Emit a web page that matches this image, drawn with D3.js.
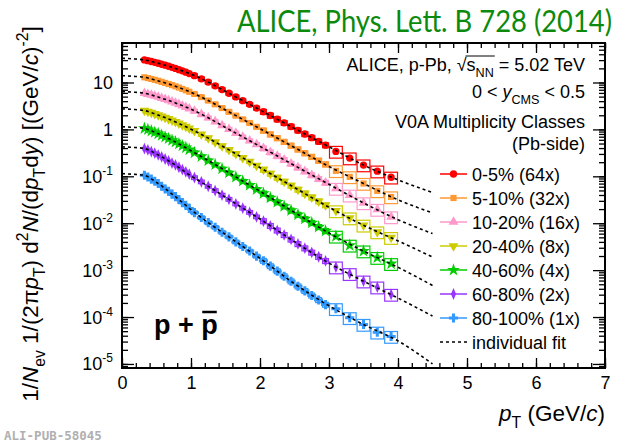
<!DOCTYPE html>
<html>
<head>
<meta charset="utf-8">
<script src="https://cdn.jsdelivr.net/npm/d3@7"></script>
<style>
  body { margin: 0; background: #fff; }
  svg { display: block; }
  text { font-family: "Liberation Sans", Arial, Helvetica, sans-serif; }
</style>
</head>
<body>
<svg width="625" height="448"></svg>
<script>
// **** p+pbar spectra in p-Pb, V0A multiplicity classes ****

// pT bin centres and widths (GeV/c)
var ptCenters = [0.325, 0.375, 0.425, 0.475, 0.525, 0.575, 0.625, 0.675, 0.725, 0.775, 0.825, 0.875, 0.925, 0.975,
  1.05, 1.15, 1.25, 1.35, 1.45, 1.55, 1.65, 1.75, 1.85, 1.95,
  2.05, 2.15, 2.25, 2.35, 2.45, 2.55, 2.65, 2.75, 2.85, 2.95,
  3.1, 3.3, 3.5, 3.7, 3.9];
var ptWidths = [0.05, 0.05, 0.05, 0.05, 0.05, 0.05, 0.05, 0.05, 0.05, 0.05, 0.05, 0.05, 0.05, 0.05,
  0.1, 0.1, 0.1, 0.1, 0.1, 0.1, 0.1, 0.1, 0.1, 0.1,
  0.1, 0.1, 0.1, 0.1, 0.1, 0.1, 0.1, 0.1, 0.1, 0.1,
  0.2, 0.2, 0.2, 0.2, 0.2];
// relative systematic uncertainty per bin
var sysRel = [0.08, 0.08, 0.08, 0.08, 0.08, 0.08, 0.08, 0.08, 0.08, 0.08, 0.08, 0.08, 0.08, 0.08,
  0.09, 0.09, 0.09, 0.09, 0.09, 0.09, 0.09, 0.09, 0.09, 0.09,
  0.12, 0.12, 0.12, 0.12, 0.12, 0.12, 0.12, 0.12, 0.12, 0.12,
  0.28, 0.28, 0.28, 0.28, 0.28];

// yields, already multiplied by the scale factor in the legend
var yield0_5 = [30.3, 29.2, 28.0, 26.9, 25.7, 24.5, 23.4, 22.2, 21.1, 20.0, 18.8, 17.7, 16.6, 15.5,
  14.0, 12.0, 10.2, 8.49, 7.08, 5.90, 4.92, 4.10, 3.42, 2.85,
  2.38, 1.98, 1.65, 1.38, 1.15, 0.957, 0.798, 0.665, 0.555, 0.462,
  0.339, 0.245, 0.174, 0.129, 0.0955];
var yield5_10 = [12.9, 12.4, 11.9, 11.4, 10.9, 10.3, 9.79, 9.29, 8.79, 8.28, 7.80, 7.29, 6.82, 6.35,
  5.70, 4.89, 4.12, 3.43, 2.85, 2.37, 1.97, 1.64, 1.37, 1.135,
  0.946, 0.785, 0.653, 0.543, 0.451, 0.375, 0.312, 0.260, 0.216, 0.180,
  0.131, 0.0973, 0.0703, 0.0489, 0.0363];
var yield10_20 = [5.92, 5.66, 5.41, 5.15, 4.90, 4.65, 4.39, 4.14, 3.90, 3.66, 3.43, 3.20, 2.98, 2.76,
  2.47, 2.10, 1.77, 1.47, 1.21, 1.01, 0.836, 0.693, 0.575, 0.477,
  0.396, 0.327, 0.271, 0.225, 0.186, 0.154, 0.128, 0.106, 0.0883, 0.0733,
  0.0550, 0.0395, 0.0271, 0.0196, 0.0136];
var yield20_40 = [2.52, 2.40, 2.28, 2.15, 2.03, 1.91, 1.78, 1.67, 1.56, 1.45, 1.35, 1.24, 1.15, 1.05,
  0.929, 0.783, 0.652, 0.538, 0.443, 0.366, 0.301, 0.248, 0.205, 0.169,
  0.139, 0.114, 0.0938, 0.0771, 0.0634, 0.0521, 0.0431, 0.0356, 0.0294, 0.0243,
  0.0183, 0.0129, 0.00904, 0.00650, 0.00493];
var yield40_60 = [1.05, 0.995, 0.929, 0.869, 0.811, 0.748, 0.690, 0.640, 0.586, 0.541, 0.493, 0.448, 0.409, 0.370,
  0.320, 0.265, 0.217, 0.178, 0.145, 0.119, 0.0964, 0.0791, 0.0647, 0.0526,
  0.0432, 0.0348, 0.0282, 0.0230, 0.0187, 0.0152, 0.0124, 0.0102, 0.00834, 0.00684,
  0.00526, 0.00338, 0.00255, 0.00185, 0.00137];
var yield60_80 = [0.391, 0.366, 0.337, 0.311, 0.286, 0.259, 0.234, 0.213, 0.192, 0.175, 0.156, 0.139, 0.125, 0.111,
  0.0938, 0.0764, 0.0612, 0.0498, 0.0398, 0.0324, 0.0259, 0.0210, 0.0171, 0.0137,
  0.0111, 0.00877, 0.00703, 0.00562, 0.00451, 0.00361, 0.00293, 0.00238, 0.00193, 0.00157,
  0.00116, 0.000838, 0.000582, 0.000434, 0.000303];
var yield80_100 = [0.105, 0.0968, 0.0871, 0.0783, 0.0703, 0.0615, 0.0537, 0.0479, 0.0417, 0.0369, 0.0320, 0.0275, 0.0242, 0.0207,
  0.0168, 0.0132, 0.0103, 0.00820, 0.00641, 0.00512, 0.00400, 0.00319, 0.00255, 0.00199,
  0.00159, 0.00122, 0.000951, 0.000743, 0.000579, 0.000453, 0.000361, 0.000289, 0.000231, 0.000184,
  0.000150, 0.0000964, 0.0000693, 0.0000474, 0.0000384];

// individual fits
var fitPt = [0, 0.15, 0.325, 0.5, 0.75, 1, 1.25, 1.5, 1.75, 2, 2.5, 3, 3.5, 4, 4.5];
var fit0_5 = [32.9, 32.0, 30.3, 26.3, 20.5, 15.1, 10.2, 6.46, 4.10, 2.60, 1.05, 0.427, 0.174, 0.0841, 0.0452];
var fit5_10 = [14.0, 13.6, 12.9, 11.1, 8.53, 6.17, 4.12, 2.60, 1.64, 1.035, 0.411, 0.162, 0.0703, 0.0316, 0.0166];
var fit10_20 = [6.38, 6.24, 5.92, 5.01, 3.78, 2.69, 1.77, 1.10, 0.693, 0.435, 0.170, 0.0676, 0.0271, 0.0119, 0.00603];
var fit20_40 = [2.74, 2.67, 2.52, 2.09, 1.50, 1.01, 0.652, 0.403, 0.248, 0.153, 0.0575, 0.0219, 0.00904, 0.0042, 0.00191];
var fit40_60 = [1.14, 1.11, 1.05, 0.839, 0.562, 0.351, 0.217, 0.132, 0.0791, 0.0479, 0.0170, 0.00617, 0.00255, 0.00115, 0.000472];
var fit60_80 = [0.424, 0.414, 0.391, 0.299, 0.183, 0.102, 0.0612, 0.0359, 0.0210, 0.0123, 0.00404, 0.00141, 0.000582, 0.000254, 0.000105];
var fit80_100 = [0.114, 0.111, 0.105, 0.0741, 0.0393, 0.0195, 0.0103, 0.00575, 0.00319, 0.00178, 0.000513, 0.000174, 0.0000693, 0.000031, 0.0000100];

var classLabels = ['0-5% (64x)', '5-10% (32x)', '10-20% (16x)', '20-40% (8x)', '40-60% (4x)', '60-80% (2x)', '80-100% (1x)'];
var yields = [yield0_5, yield5_10, yield10_20, yield20_40, yield40_60, yield60_80, yield80_100];
var fits = [fit0_5, fit5_10, fit10_20, fit20_40, fit40_60, fit60_80, fit80_100];

var xTickVals = [0, 1, 2, 3, 4, 5, 6, 7];
var yTickVals = [10, 1, 0.1, 0.01, 1e-3, 1e-4, 1e-5];
var yTickBase = ['10', '1', '10', '10', '10', '10', '10'];
var yTickExp = ['', '', '-1', '-2', '-3', '-4', '-5'];

// styles
var colors = ['#ff0000', '#ff9933', '#ff99cc', '#cccc00', '#00cc00', '#9933ff', '#3399ff'];
var symbols = [d3.symbolCircle, d3.symbolSquare, d3.symbolTriangle, d3.symbolTriangle, d3.symbolStar, d3.symbolDiamond, d3.symbolCross];
var symSize = [42, 38, 42, 42, 52, 40, 46];
var symTransform = ['', '', '', ' rotate(180)', '', ' scale(0.75,1)', ''];

var svg = d3.select('svg');
// NB: "top" is reserved on window, so use plot* names
var plotLeft = 122, plotRight = 605, plotTop = 43, plotBottom = 368;

var x = d3.scaleLinear().domain([0, 7]).range([plotLeft, plotRight]);
var y = d3.scaleLog().domain([8.2e-6, 69.5]).range([plotBottom, plotTop]);

svg.append('clipPath').attr('id', 'clip')
  .append('rect').attr('x', plotLeft).attr('y', plotTop)
  .attr('width', plotRight - plotLeft).attr('height', plotBottom - plotTop);

var plot = svg.append('g').attr('clip-path', 'url(#clip)');

function points(i) {
  return yields[i].map(function(v, j) {
    return {pt: ptCenters[j], w: ptWidths[j], v: v, s: sysRel[j]};
  });
}

// systematic boxes
yields.forEach(function(ys, i) {
  plot.append('g').selectAll('rect')
    .data(points(i))
    .enter()
    .append('rect')
      .attr('x', function(d) { return x(d.pt - d.w / 2) + 0.5; })
      .attr('width', function(d) { return x(d.pt + d.w / 2) - x(d.pt - d.w / 2) - 1; })
      .attr('y', function(d) { return y(d.v * (1 + d.s)); })
      .attr('height', function(d) { return y(d.v * (1 - d.s)) - y(d.v * (1 + d.s)); })
      .style('fill', 'none')
      .style('stroke', colors[i])
      .style('stroke-width', 1.2);
});

// markers
yields.forEach(function(ys, i) {
  plot.append('g').selectAll('path')
    .data(points(i))
    .enter()
    .append('path')
      .attr('d', d3.symbol().type(symbols[i]).size(symSize[i]))
      .attr('transform', function(d) { return 'translate(' + x(d.pt) + ',' + y(d.v) + ')' + symTransform[i]; })
      .style('fill', colors[i]);
});

// fits
var fitLine = d3.line()
  .x(function(d) { return x(d[0]); })
  .y(function(d) { return y(d[1]); })
  .curve(d3.curveMonotoneX);

fits.forEach(function(f) {
  plot.append('path')
    .datum(fitPt.map(function(p, j) { return [p, f[j]]; }))
    .attr('d', fitLine)
    .style('fill', 'none')
    .style('stroke', '#000')
    .style('stroke-width', 1.6)
    .style('stroke-dasharray', '3,3');
});

// axes, ROOT style: ticks inside on all four sides
var xMinor = d3.range(0, 7.01, 0.2);
var yMinor = y.ticks();

function tickStyle(g) {
  g.select('.domain').remove();
  g.selectAll('line').style('stroke', '#000').style('stroke-width', 1.3);
}

svg.append('g').attr('transform', 'translate(0,' + plotBottom + ')')
  .call(d3.axisBottom(x).tickValues(xMinor).tickSize(-5).tickFormat(''))
  .call(tickStyle);
var xAxis = svg.append('g').attr('transform', 'translate(0,' + plotBottom + ')')
  .call(d3.axisBottom(x).tickValues(xTickVals).tickSize(-10).tickPadding(8).tickFormat(d3.format('d')))
  .call(tickStyle);
xAxis.selectAll('text').style('font-size', '18px').style('fill', '#000')
  .style('font-family', '"Liberation Sans", Arial, sans-serif');

svg.append('g').attr('transform', 'translate(0,' + plotTop + ')')
  .call(d3.axisTop(x).tickValues(xMinor).tickSize(-5).tickFormat(''))
  .call(tickStyle);
svg.append('g').attr('transform', 'translate(0,' + plotTop + ')')
  .call(d3.axisTop(x).tickValues(xTickVals).tickSize(-10).tickFormat(''))
  .call(tickStyle);

svg.append('g').attr('transform', 'translate(' + plotLeft + ',0)')
  .call(d3.axisLeft(y).tickValues(yMinor).tickSize(-6).tickFormat(''))
  .call(tickStyle);
svg.append('g').attr('transform', 'translate(' + plotLeft + ',0)')
  .call(d3.axisLeft(y).tickValues(yTickVals).tickSize(-12).tickFormat(''))
  .call(tickStyle);
svg.append('g').attr('transform', 'translate(' + plotRight + ',0)')
  .call(d3.axisRight(y).tickValues(yMinor).tickSize(-6).tickFormat(''))
  .call(tickStyle);
svg.append('g').attr('transform', 'translate(' + plotRight + ',0)')
  .call(d3.axisRight(y).tickValues(yTickVals).tickSize(-12).tickFormat(''))
  .call(tickStyle);

// frame
svg.append('rect')
  .attr('x', plotLeft).attr('y', plotTop)
  .attr('width', plotRight - plotLeft).attr('height', plotBottom - plotTop)
  .style('fill', 'none').style('stroke', '#000').style('stroke-width', 2);

// y tick labels with exponents
yTickVals.forEach(function(v, i) {
  var t = svg.append('text')
    .attr('x', 113).attr('y', y(v) + 6.5)
    .attr('text-anchor', 'end')
    .style('font-size', '18px')
    .text(yTickBase[i]);
  if (yTickExp[i]) {
    t.append('tspan').attr('dy', -8).style('font-size', '12px').text(yTickExp[i]);
  }
});

// helper for text with sub/superscripts and italics
function richText(sel, parts, fs) {
  var shift = 0;
  parts.forEach(function(p) {
    var target = p.sub ? 0.32 : (p.sup ? -0.45 : 0);
    var ts = sel.append('tspan').text(p.t);
    if (target !== shift) ts.attr('dy', ((target - shift) * fs).toFixed(1));
    shift = target;
    if (p.sub || p.sup) ts.style('font-size', (fs * 0.7) + 'px');
    if (p.i) ts.style('font-style', 'italic');
  });
  return sel;
}

// axis titles
richText(svg.append('text')
    .attr('x', 605).attr('y', 421)
    .attr('text-anchor', 'end')
    .style('font-size', '22.5px'),
  [{t: 'p', i: true}, {t: 'T', sub: true}, {t: ' (GeV/'}, {t: 'c', i: true}, {t: ')'}], 22.5);

richText(svg.append('text')
    .attr('transform', 'translate(38,214) rotate(-90)')
    .attr('text-anchor', 'middle')
    .style('font-size', '22.5px'),
  [{t: '1/'}, {t: 'N', i: true}, {t: 'ev', sub: true}, {t: ' 1/(2\u03c0'}, {t: 'p', i: true}, {t: 'T', sub: true},
   {t: ') d'}, {t: '2', sup: true}, {t: 'N', i: true}, {t: '/(d'}, {t: 'p', i: true}, {t: 'T', sub: true},
   {t: 'd'}, {t: 'y', i: true}, {t: ') [(GeV/'}, {t: 'c', i: true}, {t: ')'}, {t: '-2', sup: true}, {t: ']'}], 22.5);

// header texts
var l1 = richText(svg.append('text')
    .attr('x', 585).attr('y', 71)
    .attr('text-anchor', 'end')
    .style('font-size', '18px'),
  [{t: 'ALICE, p-Pb, \u221a'}, {t: 's'}, {t: 'NN', sub: true}, {t: ' = 5.02 TeV'}], 18);
var n1 = l1.node();
var sStart = n1.getStartPositionOfChar(14);
var nnEnd = n1.getEndPositionOfChar(16);
svg.append('line')
  .attr('x1', sStart.x - 1).attr('x2', nnEnd.x + 1)
  .attr('y1', 71 - 15).attr('y2', 71 - 15)
  .style('stroke', '#000').style('stroke-width', 1);

richText(svg.append('text')
    .attr('x', 585).attr('y', 98)
    .attr('text-anchor', 'end')
    .style('font-size', '18px'),
  [{t: '0 < '}, {t: 'y', i: true}, {t: 'CMS', sub: true}, {t: ' < 0.5'}], 18);

svg.append('text').attr('x', 585).attr('y', 128).attr('text-anchor', 'end')
  .style('font-size', '18px').text('V0A Multiplicity Classes');
svg.append('text').attr('x', 585).attr('y', 150).attr('text-anchor', 'end')
  .style('font-size', '18px').text('(Pb-side)');

// legend
var legend = svg.append('g');
classLabels.forEach(function(lab, i) {
  var ly = 174 + i * 24;
  legend.append('line')
    .attr('x1', 440).attr('x2', 467).attr('y1', ly).attr('y2', ly)
    .style('stroke', colors[i]).style('stroke-width', 1.5);
  legend.append('path')
    .attr('d', d3.symbol().type(symbols[i]).size(symSize[i]))
    .attr('transform', 'translate(453.5,' + ly + ')' + symTransform[i])
    .style('fill', colors[i]);
  legend.append('text')
    .attr('x', 472).attr('y', ly + 6.5)
    .style('font-size', '18px')
    .text(lab);
});
legend.append('line')
  .attr('x1', 440).attr('x2', 467).attr('y1', 174 + 7 * 24).attr('y2', 174 + 7 * 24)
  .style('stroke', '#000').style('stroke-width', 1.6).style('stroke-dasharray', '3,3');
legend.append('text')
  .attr('x', 472).attr('y', 174 + 7 * 24 + 6.5)
  .style('font-size', '18px')
  .text('individual fit');

// particle label
var pp = svg.append('text')
  .attr('x', 154).attr('y', 334)
  .style('font-size', '27px').style('font-weight', 'bold')
  .text('p + p');
var ppNode = pp.node();
var pbS = ppNode.getStartPositionOfChar(4), pbE = ppNode.getEndPositionOfChar(4);
svg.append('line')
  .attr('x1', pbS.x + 1).attr('x2', pbE.x - 1).attr('y1', 334 - 22).attr('y2', 334 - 22)
  .style('stroke', '#000').style('stroke-width', 2.5);

// title and watermark
svg.append('text')
  .attr('x', 237).attr('y', 32)
  .attr('textLength', 375).attr('lengthAdjust', 'spacingAndGlyphs')
  .style('font-family', 'Lato, "Open Sans", sans-serif')
  .style('font-size', '31px')
  .style('fill', '#0b8a0b')
  .text('ALICE, Phys. Lett. B 728 (2014)');

svg.append('text')
  .attr('x', 4).attr('y', 440)
  .style('font-family', '"DejaVu Sans Mono", "Liberation Mono", monospace')
  .style('font-size', '12.5px').style('font-weight', 'bold')
  .style('fill', '#b0b0b0')
  .text('ALI-PUB-58045');
</script>
</body>
</html>
